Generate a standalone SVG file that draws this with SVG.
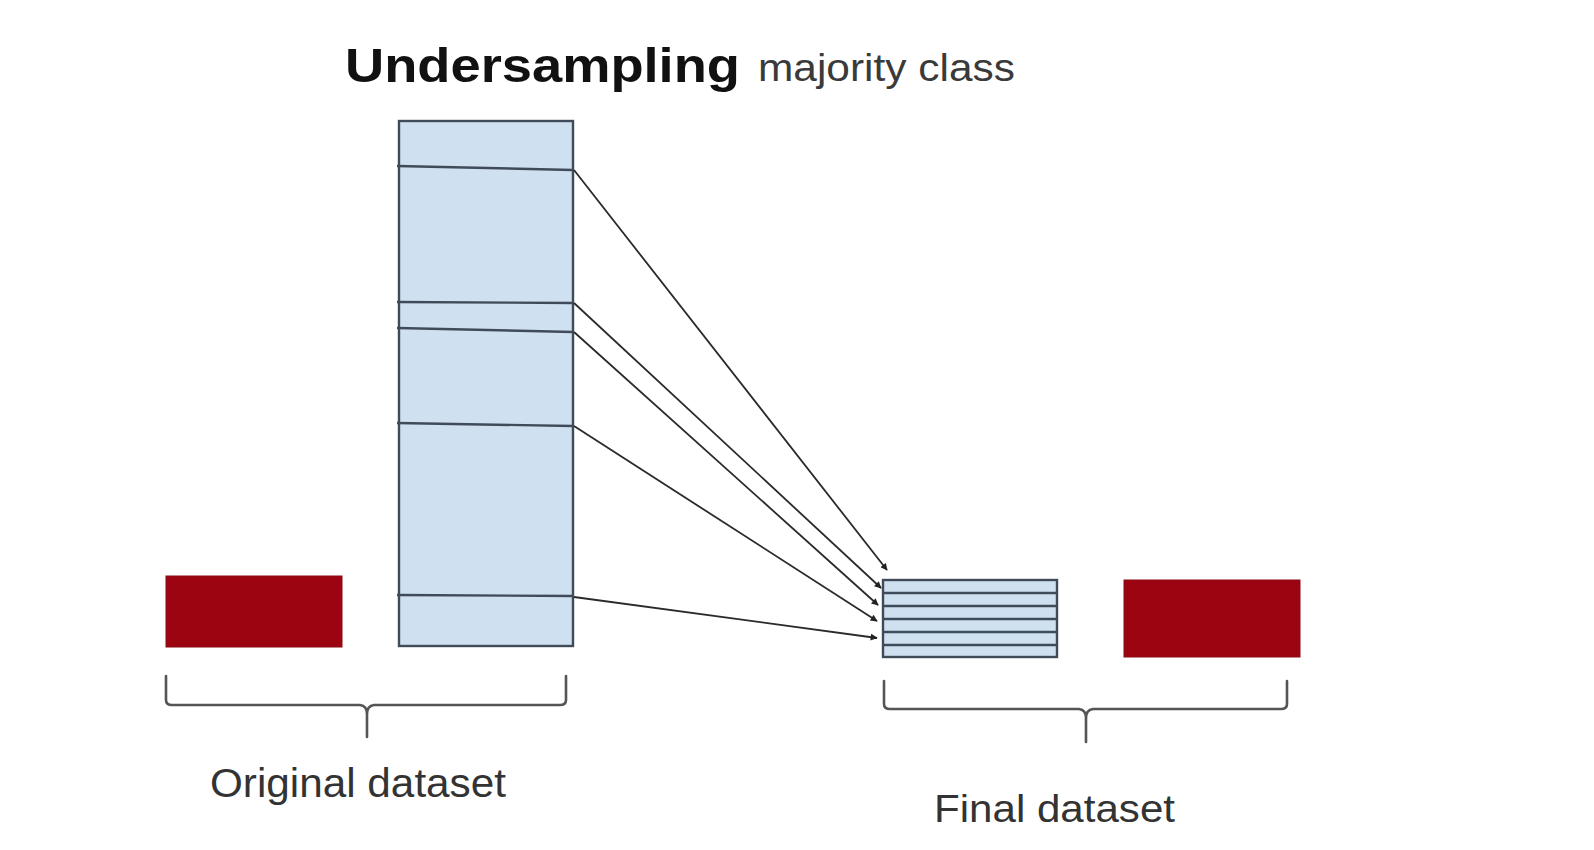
<svg xmlns="http://www.w3.org/2000/svg" width="1594" height="850" viewBox="0 0 1594 850">
<defs>
<marker id="ah" viewBox="0 0 10 10" refX="9" refY="5" markerWidth="9" markerHeight="7" orient="auto" markerUnits="userSpaceOnUse">
<path d="M0,0 L10,5 L0,10 z" fill="#222"/>
</marker>
<style>
.blue{fill:#cfe0f1;stroke:#3f4b59;stroke-width:2.4}
.row{stroke:#3f4b59;stroke-width:2.4;fill:none}
.red{fill:#9c0412;stroke:#8a0a12;stroke-width:1}
.arrow{stroke:#2a2a2a;stroke-width:1.8;fill:none;marker-end:url(#ah)}
.brace{stroke:#555;stroke-width:2.6;fill:none;stroke-linejoin:round;stroke-linecap:round}
.lbl{font-family:"Liberation Sans",Arial,sans-serif;fill:#333}
</style>
</defs>
<rect width="1594" height="850" fill="#fff"/>

<g id="title">
<text x="345" y="82" class="lbl" font-size="49" font-weight="bold" style="fill:#111" textLength="395" lengthAdjust="spacingAndGlyphs">Undersampling</text>
<text x="758" y="81" class="lbl" font-size="38" style="fill:#3a3a3a" textLength="257" lengthAdjust="spacingAndGlyphs">majority class</text>
</g>

<g id="minority-original">
<rect x="166" y="576" width="176" height="71" class="red"/>
</g>

<g id="majority-original">
<rect x="399" y="121" width="174" height="525" class="blue"/>
<path class="row" d="M397,166 L573,170"/>
<path class="row" d="M397,302 L573,303"/>
<path class="row" d="M397,328 L573,332"/>
<path class="row" d="M397,423 L573,426"/>
<path class="row" d="M397,595 L573,596"/>
</g>

<g id="majority-final">
<rect x="883" y="580" width="174" height="77" class="blue"/>
<path class="row" d="M883,593 H1057 M883,606 H1057 M883,619 H1057 M883,632 H1057 M883,645 H1057"/>
</g>

<g id="minority-final">
<rect x="1124" y="580" width="176" height="77" class="red"/>
</g>

<g id="connectors">
<path class="arrow" d="M574,170 L887,570"/>
<path class="arrow" d="M574,303 L881,588"/>
<path class="arrow" d="M574,332 L878,605"/>
<path class="arrow" d="M574,426 L877,621"/>
<path class="arrow" d="M574,597 L877,638"/>
</g>

<g id="brace-original">
<path class="brace" d="M166,676 V700 Q166,705 172,705 H360 Q367,706 367,714 V737 M367,714 Q367,706 374,705 H560 Q566,705 566,700 V676"/>
<text x="210" y="797" class="lbl" font-size="40" textLength="296" lengthAdjust="spacingAndGlyphs">Original dataset</text>
</g>

<g id="brace-final">
<path class="brace" d="M884,681 V704 Q884,709 890,709 H1079 Q1086,710 1086,718 V742 M1086,718 Q1086,710 1093,709 H1281 Q1287,709 1287,704 V681"/>
<text x="934" y="822" class="lbl" font-size="38" textLength="241" lengthAdjust="spacingAndGlyphs">Final dataset</text>
</g>
</svg>
